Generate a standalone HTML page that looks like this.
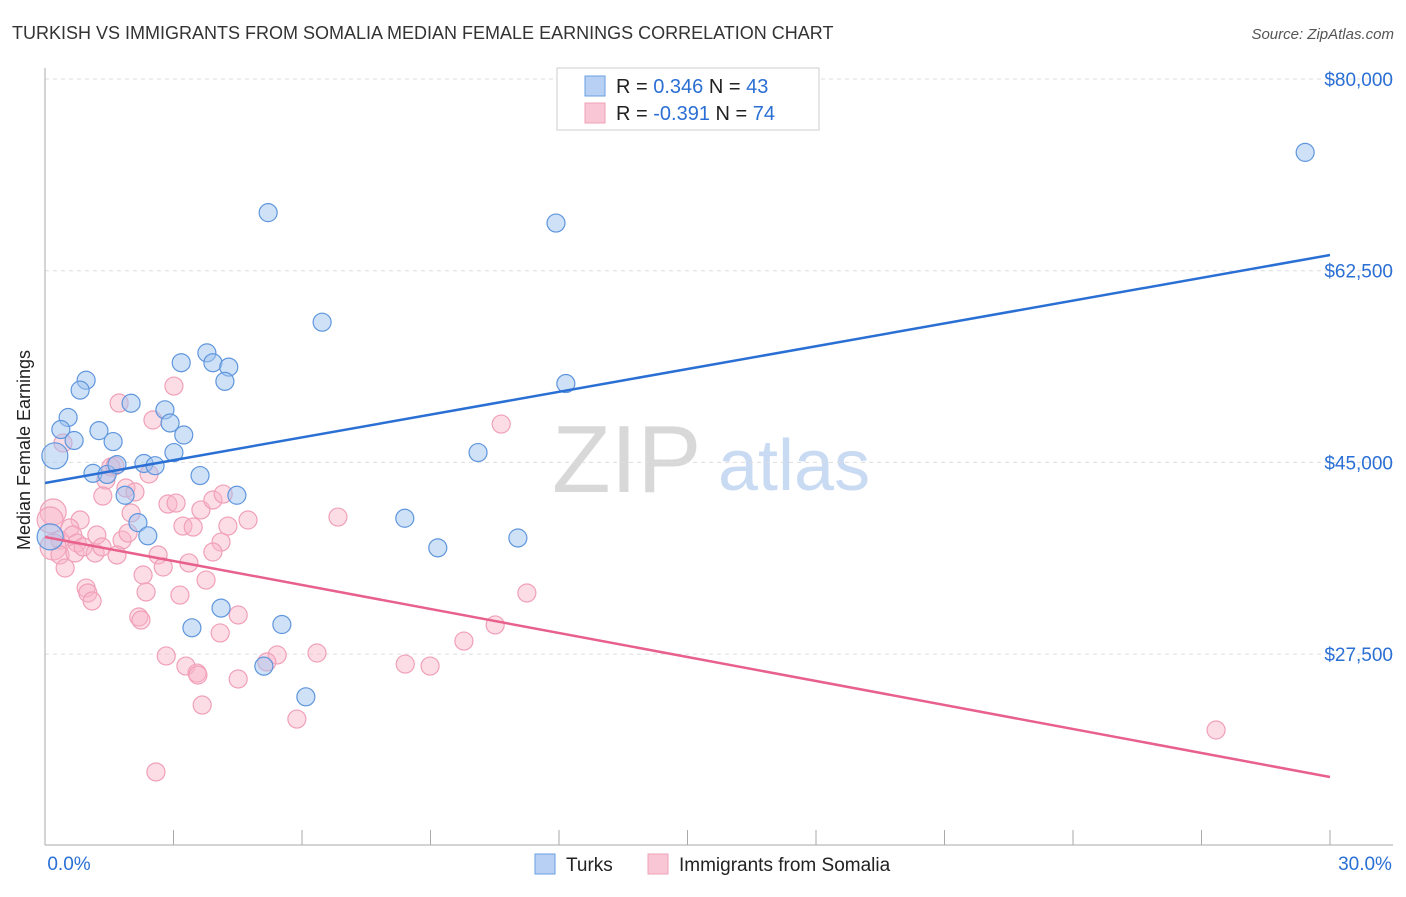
<!DOCTYPE html>
<html><head><meta charset="utf-8"><style>
body{margin:0;background:#fff;font-family:"Liberation Sans",sans-serif;}
svg text{font-family:"Liberation Sans",sans-serif;}
</style></head><body>
<svg id="c" width="1406" height="892" xmlns="http://www.w3.org/2000/svg">
<text x="12" y="39" font-size="18" fill="#333">TURKISH VS IMMIGRANTS FROM SOMALIA MEDIAN FEMALE EARNINGS CORRELATION CHART</text>
<text x="1394" y="39" font-size="15" fill="#555" font-style="italic" text-anchor="end">Source: ZipAtlas.com</text>
<text x="36" y="456" font-size="18" fill="#222" text-anchor="middle" transform="rotate(-90 30 456)">Median Female Earnings</text>
<g>
<text x="552" y="492" font-size="96" font-family="Liberation Serif,serif" fill="#d8d8d8">ZIP</text>
<text x="718" y="490" font-size="72" fill="#c9daf3">atlas</text>
</g>
<g id="grid"></g><g id="axes"></g><g id="pts"></g><g id="lines"></g>
<g>
<rect x="557" y="68" width="262" height="62" fill="#fff" stroke="#ccc"/>
<rect x="585" y="76" width="20" height="20" fill="#b8d0f3" stroke="#6a9fe0"/>
<rect x="585" y="103" width="20" height="20" fill="#f8c6d4" stroke="#f0a0b8"/>
<text x="616" y="93" font-size="20" fill="#222">R = <tspan fill="#2a6fd4"> 0.346</tspan>   N = <tspan fill="#2a6fd4">43</tspan></text>
<text x="616" y="120" font-size="20" fill="#222">R = <tspan fill="#2a6fd4">-0.391</tspan>   N = <tspan fill="#2a6fd4">74</tspan></text>
</g>
<g>
<rect x="535" y="854" width="20" height="20" fill="#b8d0f3" stroke="#6a9fe0"/>
<text x="566" y="871" font-size="19" fill="#222">Turks</text>
<rect x="648" y="854" width="20" height="20" fill="#f8c6d4" stroke="#f0a0b8"/>
<text x="679" y="871" font-size="19" fill="#222">Immigrants from Somalia</text>
</g>
</svg>
<script>
const yTicks=[80000,62500,45000,27500];
const yTickLabels=["$80,000","$62,500","$45,000","$27,500"];
const xTickLabels=["0.0%","30.0%"];
const turksX=[5.21,11.93,29.42,6.47,12.16,10.11,8.40,9.17,11.04,3.78,3.92,3.18,4.29,4.20,0.96,0.82,0.54,0.37,0.68,1.26,1.59,2.01,2.80,2.92,3.24,3.01,0.23,1.12,1.45,1.68,2.31,2.57,3.62,4.48,1.87,2.17,2.40,0.12,4.11,3.43,5.53,5.11,6.09];
const turksY=[67.8,66.85,73.3,57.8,52.2,45.9,39.9,37.2,38.1,55.0,54.1,54.1,53.7,52.4,52.5,51.6,49.1,48.0,47.0,47.9,46.9,50.4,49.8,48.6,47.5,45.9,45.6,44.0,43.9,44.8,44.9,44.7,43.8,42.0,42.0,39.5,38.3,38.2,31.7,29.9,30.2,26.4,23.6];
const somX=[3.01,1.73,2.52,0.42,1.54,1.63,1.42,2.43,1.89,2.10,1.35,2.87,3.06,3.64,3.92,4.16,0.19,0.82,2.01,3.22,3.46,4.27,4.74,6.84,0.12,0.58,0.35,0.65,0.75,1.21,1.80,1.94,0.19,0.35,0.70,0.89,1.17,1.33,1.68,2.64,2.76,3.36,4.11,3.92,0.47,2.29,3.76,2.36,3.15,0.96,1.00,1.10,2.19,2.24,4.51,4.09,2.83,3.29,3.55,3.57,4.51,3.67,5.42,5.18,6.35,5.88,2.59,10.65,11.25,10.51,9.78,8.41,8.99,27.34];
const somY=[51.97,50.42,48.87,46.77,44.58,44.67,43.39,43.94,42.66,42.30,41.93,41.20,41.29,40.66,41.57,42.11,40.47,39.74,40.38,39.19,39.10,39.19,39.74,40.01,39.74,39.01,37.91,38.37,37.64,38.37,37.91,38.55,37.28,36.55,36.73,37.28,36.73,37.28,36.55,36.55,35.45,35.82,37.73,36.82,35.36,34.72,34.26,33.17,32.89,33.53,33.08,32.35,30.89,30.61,31.07,29.43,27.33,26.41,25.77,25.59,25.23,22.85,27.42,26.78,27.60,21.57,16.74,48.50,33.08,30.16,28.69,26.59,26.41,20.57];
const turksTrend=[43.12,63.93];
const somTrend=[38.19,16.28];
const NS="http://www.w3.org/2000/svg";
const xS=p=>45+p/30*1285;
const yS=v=>79+(80000-v)/17500*191.7;
const yK=k=>yS(k*1000);
function mk(tag,attrs,parent){const e=document.createElementNS(NS,tag);for(const k in attrs)e.setAttribute(k,attrs[k]);document.getElementById(parent).appendChild(e);return e;}
yTicks.forEach((t,i)=>{
 const l=mk('line',{x1:45,x2:1393,y1:yS(t),y2:yS(t),stroke:'#ddd','stroke-dasharray':'4,4'},'grid');
 
 
 const tx=mk('text',{x:1393,y:yS(t)+7,'font-size':19,fill:'#2a6fd4','text-anchor':'end'},'grid');
 tx.textContent=yTickLabels[i];
 
 
});
let a=mk('line',{x1:45,x2:45,y1:68,y2:845,stroke:'#aaa'},'axes');


a=mk('line',{x1:45,x2:1393,y1:845,y2:845,stroke:'#aaa'},'axes');


for(let i=1;i<=10;i++){const t=mk('line',{x1:xS(i*3),x2:xS(i*3),y1:830,y2:845,stroke:'#aaa'},'axes');
 
 }
[[xS(0)+24,0],[xS(30)+35,1]].forEach(([x,i])=>{const t=mk('text',{x:x,y:870,'font-size':19,fill:'#2a6fd4','text-anchor':'middle'},'axes');t.textContent=xTickLabels[i];
 
 });
function dots(X,Y,fill,stroke,name){X.forEach((x,i)=>{const big=x<0.25;const c=mk('circle',{cx:xS(x),cy:yK(Y[i]),r:big?13:9,fill:fill,stroke:stroke,'stroke-width':1.2},'pts');
 
 });}
dots(somX,somY,'rgba(248,180,200,0.45)','#f0a0b8','somalia-point');
dots(turksX,turksY,'rgba(160,196,240,0.5)','#5f96dd','turks-point');
let t1=mk('line',{x1:xS(0),y1:yK(turksTrend[0]),x2:xS(30),y2:yK(turksTrend[1]),stroke:'#2a6fd4','stroke-width':2.5},'lines');


let t2=mk('line',{x1:xS(0),y1:yK(somTrend[0]),x2:xS(30),y2:yK(somTrend[1]),stroke:'#e8608c','stroke-width':2.5},'lines');


</script>
</body></html>
